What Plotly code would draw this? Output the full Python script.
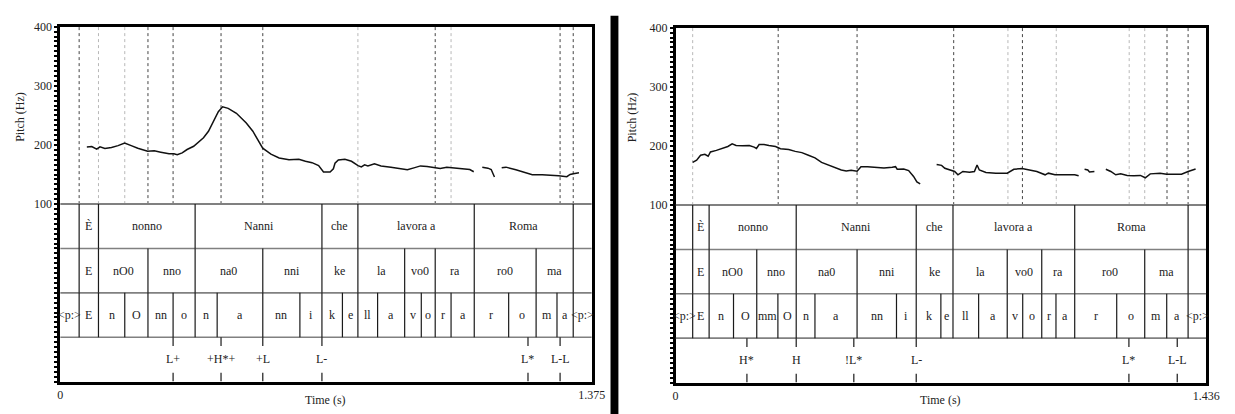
import plotly.graph_objects as go

# ---------------- DATA ----------------
# Left panel (duration 1.375 s)
L_DUR = 1.375
L_pitch_t = [0.0689, 0.0816, 0.0944, 0.1029, 0.1156, 0.1327, 0.1497, 0.1667, 0.1837, 0.2007,
             0.2262, 0.2432, 0.2602, 0.2815, 0.2942, 0.3027, 0.3155, 0.3282, 0.3452, 0.3580,
             0.3707, 0.3835, 0.3962, 0.4090, 0.4201, 0.4345, 0.4558, 0.4813, 0.4983, 0.5238,
             0.5451, 0.5663, 0.5918, 0.6173, 0.6344, 0.6514, 0.6684, 0.6811, 0.6981, 0.7066,
             0.7108, 0.7194, 0.7364, 0.7534, 0.7704, 0.7789, 0.7874, 0.7959, 0.8129, 0.8299,
             0.8554, 0.8724, 0.8980, 0.9150, 0.9320, 0.9490, 0.9660, 0.9830, 1.0000, 1.0170,
             1.0425, 1.0595, 1.0697, None,
             1.0918, 1.1063, 1.1148, 1.1190, 1.1233, None,
             1.1420, 1.1531, 1.1786, 1.2041, 1.2211, 1.2466, 1.2636, 1.2891, 1.3104, 1.3189,
             1.3274, 1.3418]
L_pitch_hz = [196.7, 197.3, 192.8, 196.7, 194.0, 195.6, 198.9, 203.3, 198.9, 194.5,
              189.5, 190.0, 187.8, 185.0, 185.0, 183.4, 186.7, 192.3, 197.8, 205.6,
              212.2, 223.2, 239.7, 256.3, 264.6, 261.9, 253.6, 237.1, 223.2, 194.5,
              184.5, 177.9, 175.1, 175.7, 172.4, 170.1, 165.1, 154.2, 154.2, 159.7,
              169.1, 174.6, 175.7, 172.4, 165.1, 163.0, 166.3, 164.6, 168.0, 164.6,
              162.5, 160.8, 158.0, 161.3, 164.6, 163.5, 161.3, 160.2, 162.5, 161.3,
              159.7, 158.5, 154.7, None,
              162.5, 160.8, 158.5, 151.4, 145.9, None,
              161.3, 162.5, 158.0, 153.0, 149.7, 149.7, 149.2, 148.1, 146.4, 150.2,
              151.4, 153.0]

L_words_b = [0, 0.049, 0.099, 0.349, 0.677, 0.770, 1.071, 1.327, 1.375]
L_words = ["", "È", "nonno", "Nanni", "che", "lavora a", "Roma", ""]
L_syl_b = [0, 0.049, 0.099, 0.227, 0.349, 0.524, 0.677, 0.770, 0.891, 0.970, 1.071, 1.231, 1.327, 1.375]
L_syl = ["", "E", "nO0", "nno", "na0", "nni", "ke", "la", "vo0", "ra", "ro0", "ma", ""]
L_ph_b = [0, 0.049, 0.099, 0.167, 0.227, 0.292, 0.349, 0.406, 0.524, 0.620, 0.677, 0.730, 0.770,
          0.821, 0.891, 0.934, 0.970, 1.011, 1.071, 1.160, 1.231, 1.285, 1.327, 1.375]
L_ph = ["<p:>", "E", "n", "O", "nn", "o", "n", "a", "nn", "i", "k", "e", "ll", "a", "v", "o",
        "r", "a", "r", "o", "m", "a", "<p:>"]
L_tone_t = [0.292, 0.416, 0.524, 0.677, 1.210, 1.293]
L_tone = ["L+", "+H*+", "+L", "L-", "L*", "L-L"]
L_marks_t = [0.049, 0.099, 0.167, 0.227, 0.292, 0.416, 0.524, 0.770, 0.970, 1.011, 1.293, 1.327]
L_marks_light = [False, True, True, False, False, False, False, True, False, True, False, False]

# Right panel (duration 1.436 s)
R_DUR = 1.436
R_pitch_t = [0.0462, 0.0569, 0.0676, 0.0792, 0.0881, 0.0943, 0.1103, 0.1281, 0.1414, 0.1530,
             0.1637, 0.1815, 0.1993, 0.2126, 0.2188, 0.2260, 0.2393, 0.2527, 0.2704, 0.2838,
             0.3061, 0.3238, 0.3416, 0.3594, 0.3772, 0.3950, 0.4128, 0.4305, 0.4484, 0.4617,
             0.4750, 0.4911, 0.5017, 0.5196, 0.5463, 0.5639, 0.5863, 0.5951, 0.5997, 0.6173,
             0.6307, 0.6440, 0.6530, 0.6619, None,
             0.7064, 0.7198, 0.7286, 0.7419, 0.7553, 0.7641, 0.7775, 0.7953, 0.8087, 0.8158,
             0.8220, 0.8399, 0.8666, 0.8975, 0.9154, 0.9376, 0.9554, 0.9776, 1.0000, 1.0088,
             1.0267, 1.0443, 1.0622, 1.0801, 1.0908, None,
             1.1068, 1.1156, 1.1201, 1.1334, None,
             1.1644, 1.1778, 1.1911, 1.2045, 1.2223, 1.2402, 1.2578, 1.2712, 1.2845, 1.3112,
             1.3290, 1.3691, 1.3870, 1.4073]
R_pitch_hz = [172.1, 175.9, 184.2, 185.9, 182.6, 189.8, 192.5, 196.9, 199.1, 203.5,
              200.7, 200.2, 200.7, 198.1, 195.8, 202.4, 202.4, 200.7, 199.1, 195.3,
              194.1, 190.8, 188.7, 184.2, 179.9, 172.1, 167.7, 163.9, 159.4, 157.8,
              158.9, 157.3, 165.0, 165.0, 163.9, 162.7, 163.9, 165.0, 160.6, 161.1,
              158.4, 148.5, 139.1, 135.8, None,
              168.8, 167.2, 162.2, 159.4, 156.8, 151.2, 156.8, 155.6, 156.8, 167.7,
              159.4, 155.1, 154.0, 154.0, 160.6, 161.7, 159.4, 156.8, 151.2, 154.0,
              151.2, 151.2, 151.8, 151.2, 149.5, None,
              160.6, 159.4, 156.1, 156.8, None,
              160.6, 156.8, 151.2, 152.8, 150.2, 149.5, 150.2, 146.2, 152.8, 154.0,
              152.3, 152.3, 156.8, 161.1]

R_words_b = [0, 0.0462, 0.0907, 0.3264, 0.6512, 0.7507, 1.0801, 1.3870, 1.436]
R_words = ["", "È", "nonno", "Nanni", "che", "lavora a", "Roma", ""]
R_syl_b = [0, 0.0462, 0.0907, 0.2196, 0.3264, 0.4911, 0.6512, 0.7507, 0.8975, 0.9909, 1.0801,
           1.2696, 1.3870, 1.436]
R_syl = ["", "E", "nO0", "nno", "na0", "nni", "ke", "la", "vo0", "ra", "ro0", "ma", ""]
R_ph_b = [0, 0.0462, 0.0907, 0.1567, 0.2196, 0.2768, 0.3264, 0.3771, 0.4911, 0.5978, 0.6512,
          0.7179, 0.7507, 0.8201, 0.8975, 0.9394, 0.9909, 1.0294, 1.0801, 1.1938, 1.2696,
          1.3291, 1.3870, 1.436]
R_ph = ["<p:>", "E", "n", "O", "mm", "O", "n", "a", "nn", "i", "k", "e", "ll", "a", "v", "o",
        "r", "a", "r", "o", "m", "a", "<p:>"]
R_tone_t = [0.1930, 0.3264, 0.4823, 0.6512, 1.2268, 1.3576]
R_tone = ["H*", "H", "!L*", "L-", "L*", "L-L"]
R_marks_t = [0.0462, 0.2776, 0.4911, 0.7526, 0.8994, 0.9386, 1.0302, 1.2276, 1.2696, 1.3299, 1.3870]
R_marks_light = [True, False, False, False, True, False, True, True, True, False, False]

PITCH_TICKS = [100, 200, 300, 400]

# ---------------- LAYOUT ----------------
W, H = 1235, 414
FONT = "Liberation Serif, DejaVu Serif, Times New Roman, serif"
TXT = "#222222"
TIER_H = 75.0
YMIN = 100 - 4 * TIER_H
FS = 12

# dense Praat-like ticks along the left axis, labels only at 100..400
Y_TICKVALS = [400 - k * 100 / 12 for k in range(73)]
Y_TICKTEXT = [str(int(round(v))) if any(abs(v - p) < 1e-6 for p in PITCH_TICKS) else ""
              for v in Y_TICKVALS]

fig = go.Figure()
shapes = []
annotations = []


def panel(xa, ya, dur, pt, phz, tiers, tone_t, tone_lab, marks_t, marks_light, xdom, ylab_x):
    fig.add_trace(go.Scatter(x=pt, y=phz, mode="lines", xaxis=xa, yaxis=ya,
                             line=dict(color="#111111", width=1.5), connectgaps=False,
                             showlegend=False, hoverinfo="skip"))
    for t, light in zip(marks_t, marks_light):
        shapes.append(dict(type="line", xref=xa, yref=ya, x0=t, x1=t, y0=100, y1=400,
                           line=dict(color="#b8b8b8" if light else "#444444", width=1, dash="dot"),
                           layer="below"))
    for k in range(1, 4):
        yv = 100 - k * TIER_H
        shapes.append(dict(type="line", xref=xa, yref=ya, x0=0, x1=dur, y0=yv, y1=yv,
                           line=dict(color="#808080", width=1.6)))
    shapes.append(dict(type="line", xref=xa, yref=ya, x0=0, x1=dur, y0=100, y1=100,
                       line=dict(color="#808080", width=2)))
    for k, (bounds, labs) in enumerate(tiers):
        top = 100 - k * TIER_H
        bot = top - TIER_H
        for b in bounds[1:-1]:
            shapes.append(dict(type="line", xref=xa, yref=ya, x0=b, x1=b, y0=bot, y1=top,
                               line=dict(color="#1a1a1a", width=1.2)))
        for i, lab in enumerate(labs):
            if lab:
                annotations.append(dict(x=(bounds[i] + bounds[i + 1]) / 2, y=(top + bot) / 2,
                                        xref=xa, yref=ya, text=lab, showarrow=False,
                                        xanchor="center", yanchor="middle",
                                        font=dict(family=FONT, size=FS, color=TXT)))
    top = 100 - 3 * TIER_H
    bot = top - TIER_H
    for t, lab in zip(tone_t, tone_lab):
        shapes.append(dict(type="line", xref=xa, yref=ya, x0=t, x1=t, y0=top, y1=top - 15,
                           line=dict(color="#1a1a1a", width=1.2)))
        shapes.append(dict(type="line", xref=xa, yref=ya, x0=t, x1=t, y0=bot, y1=bot + 15,
                           line=dict(color="#1a1a1a", width=1.2)))
        annotations.append(dict(x=t, y=(top + bot) / 2, xref=xa, yref=ya, text=lab,
                                showarrow=False, xanchor="center", yanchor="middle",
                                font=dict(family=FONT, size=FS, color=TXT)))
    annotations.append(dict(x=(xdom[0] + xdom[1]) / 2, y=1 - 400 / H, xref="paper", yref="paper",
                            text="Time (s)", showarrow=False, xanchor="center", yanchor="middle",
                            font=dict(family=FONT, size=FS, color=TXT)))
    annotations.append(dict(x=ylab_x / W, y=1 - 112 / H, xref="paper", yref="paper",
                            text="Pitch (Hz)", showarrow=False, textangle=-90,
                            xanchor="center", yanchor="middle",
                            font=dict(family=FONT, size=FS, color=TXT)))


Ldom_x = [58 / W, 597 / W]
Ldom_y = [1 - 381 / H, 1 - 20 / H]
Rdom_x = [682 / W, 1220 / W]
Rdom_y = [1 - 382 / H, 1 - 21 / H]

panel("x", "y", L_DUR, L_pitch_t, L_pitch_hz,
      [(L_words_b, L_words), (L_syl_b, L_syl), (L_ph_b, L_ph)],
      L_tone_t, L_tone, L_marks_t, L_marks_light, Ldom_x, 17)
panel("x2", "y2", R_DUR, R_pitch_t, R_pitch_hz,
      [(R_words_b, R_words), (R_syl_b, R_syl), (R_ph_b, R_ph)],
      R_tone_t, R_tone, R_marks_t, R_marks_light, Rdom_x, 638)

shapes.append(dict(type="rect", xref="paper", yref="paper", x0=616 / W, x1=624 / W,
                   y0=0, y1=1 - 9 / H, fillcolor="#000000", line=dict(width=0)))


def xaxis_cfg(dom, dur, lab, anchor):
    return dict(domain=dom, range=[0, dur], tickvals=[0, dur], ticktext=["0", lab],
                ticks="", showline=True, linewidth=2.5, linecolor="#000000", mirror=True,
                showgrid=False, zeroline=False, anchor=anchor,
                tickfont=dict(family=FONT, size=FS, color=TXT), fixedrange=True)


def yaxis_cfg(dom, anchor):
    return dict(domain=dom, range=[YMIN, 400], tickmode="array", tickvals=Y_TICKVALS,
                ticktext=Y_TICKTEXT, ticks="outside", ticklen=3, tickwidth=1.5,
                tickcolor="#000000", showline=True, linewidth=2.5,
                linecolor="#000000", mirror=True, showgrid=False, zeroline=False,
                anchor=anchor, tickfont=dict(family=FONT, size=FS, color=TXT),
                fixedrange=True)


fig.update_layout(
    width=W, height=H, margin=dict(l=0, r=0, t=0, b=0),
    paper_bgcolor="white", plot_bgcolor="white", showlegend=False,
    xaxis=xaxis_cfg(Ldom_x, L_DUR, "1.375", "y"),
    yaxis=yaxis_cfg(Ldom_y, "x"),
    xaxis2=xaxis_cfg(Rdom_x, R_DUR, "1.436", "y2"),
    yaxis2=yaxis_cfg(Rdom_y, "x2"),
    shapes=shapes, annotations=annotations,
)

fig.write_html("out.html", config={"displayModeBar": False},
               post_script="document.body.style.margin='0';document.body.style.overflow='hidden';")
